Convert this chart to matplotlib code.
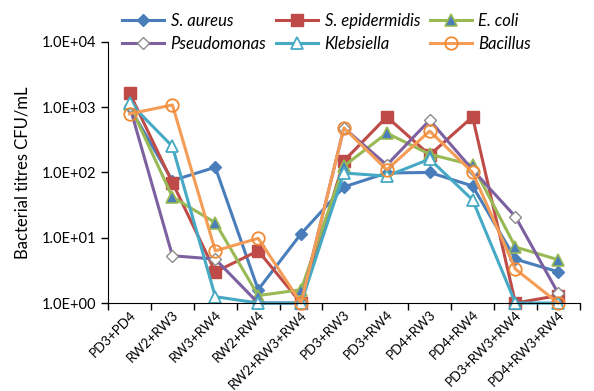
import numpy as np
from matplotlib import pyplot as plt
from matplotlib.ticker import FixedLocator, FuncFormatter

plt.rcParams['font.family'] = ['Lato', 'DejaVu Sans']

combos = ["PD3+PD4", "RW2+RW3", "RW3+RW4", "RW2+RW4", "RW2+RW3+RW4", "PD3+RW3",
          "PD3+RW4", "PD4+RW3", "PD4+RW4", "PD3+RW3+RW4", "PD4+RW3+RW4"]

s_aureus = [1000, 75, 120, 1.6, 11.5, 60, 98, 100, 62, 4.7, 3.0]
s_epidermidis = [1650, 70, 3.0, 6.3, 1.0, 150, 710, 185, 710, 1.0, 1.3]
e_coli = [1100, 42, 17, 1.3, 1.6, 125, 400, 190, 130, 7.2, 4.6]
pseudomonas = [1050, 5.3, 4.7, 1.0, 1.0, 480, 130, 630, 110, 21, 1.4]
klebsiella = [1170, 250, 1.25, 1.0, 1.0, 98, 88, 160, 38, 1.0, 1.0]
bacillus = [790, 1080, 6.3, 9.8, 1.0, 480, 110, 430, 100, 3.3, 1.0]

fig = plt.figure(figsize=(5.94, 3.91), dpi=100)
ax = fig.add_axes([0.182, 0.225, 0.794, 0.668])
x = np.arange(len(combos))

l1, = ax.plot(x, s_aureus, color="#4A7EBB", lw=2.2, marker="D", ms=6.5,
              mfc="#4A7EBB", mec="#4A7EBB", label="S. aureus", clip_on=False)
l2, = ax.plot(x, s_epidermidis, color="#BE4B48", lw=2.2, marker="s", ms=8,
              mfc="#BE4B48", mec="#BE4B48", label="S. epidermidis", clip_on=False)
l3, = ax.plot(x, e_coli, color="#98B954", lw=2.2, marker="^", ms=8,
              mfc="#4A7EBB", mec="#98B954", mew=1.2, label="E. coli", clip_on=False)
l4, = ax.plot(x, pseudomonas, color="#7D60A0", lw=2.2, marker="D", ms=6.5,
              mfc="white", mec="#8C8C8C", mew=1.0, label="Pseudomonas", clip_on=False)
l5, = ax.plot(x, klebsiella, color="#46AAC5", lw=2.2, marker="^", ms=8.5,
              mfc="white", mec="#46AAC5", mew=1.3, label="Klebsiella", clip_on=False)
l6, = ax.plot(x, bacillus, color="#F59D56", lw=2.2, marker="o", ms=9,
              mfc="none", mec="#F08A35", mew=1.3, label="Bacillus", clip_on=False)

ax.set_yscale("log")
ax.set_ylim(1, 1e4)
ax.set_yticks([1, 10, 100, 1000, 10000])
ax.yaxis.set_major_formatter(FuncFormatter(lambda v, p: "1.0E+%02d" % int(round(np.log10(v)))))
ax.yaxis.set_minor_locator(FixedLocator([]))
ax.set_xlim(-0.5, len(combos) - 0.5)
ax.set_xticks(x)
ax.set_xticklabels(combos, rotation=45, ha="right", rotation_mode="anchor", fontsize=9.5)
ax.tick_params(axis="x", which="major", length=0, pad=4)
ax.set_xticks(np.arange(-0.5, len(combos), 1), minor=True)
ax.tick_params(axis="x", which="minor", length=5, width=1)
ax.tick_params(axis="y", length=5, width=1, labelsize=10.5)
for s in ["top", "right"]:
    ax.spines[s].set_visible(False)
ax.set_ylabel("Bacterial titres CFU/mL", fontsize=12, labelpad=8)

# column-major order so rows read like the original
handles = [l1, l4, l2, l5, l3, l6]
fig.legend(handles, [h.get_label() for h in handles], loc="center",
           bbox_to_anchor=(0.55, 0.917), ncol=3, frameon=False,
           prop={"style": "italic", "size": 12}, handlelength=2.5,
           columnspacing=0.6, handletextpad=0.4, labelspacing=0.45)

fig.savefig("out.png", dpi=100)
